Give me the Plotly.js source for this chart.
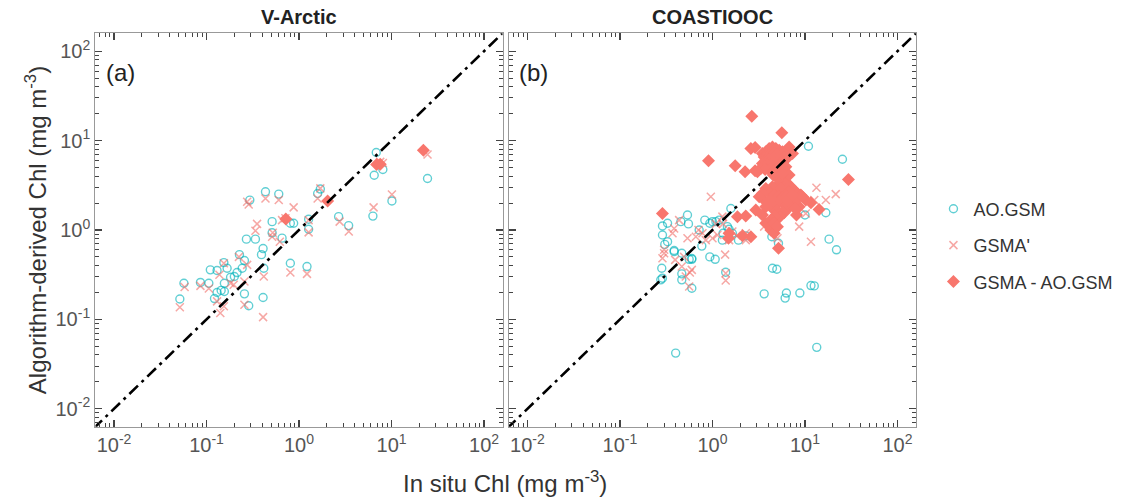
<!DOCTYPE html>
<html>
<head>
<meta charset="utf-8">
<script src="https://cdn.plot.ly/plotly-3.0.1.min.js"></script>
<style>html,body{margin:0;padding:0;background:#fff;}#chart{width:1126px;height:499px;}</style>
</head>
<body>
<div id="chart"></div>
<script>
// ---------------- data ----------------
const seriesNames = ["AO.GSM", "GSMA'", "GSMA - AO.GSM"];
const panelTitles = ["V-Arctic", "COASTIOOC"];
const panelLabels = ["(a)", "(b)"];
const tickValues = [0.01, 0.1, 1, 10, 100];
const tickLabels = ["10<sup>-2</sup>", "10<sup>-1</sup>", "10<sup>0</sup>", "10<sup>1</sup>", "10<sup>2</sup>"];
const identityLine = [0.001, 1000];

// V-Arctic: AO.GSM
const arcticAO_x = [6.84,6.50,8.06,24.5,10.1,6.29,2.68,3.44,1.70,1.59,1.27,1.27,0.806,0.875,0.512,0.604,0.434,0.294,0.656,0.512,0.270,0.338,0.409,0.393,0.806,1.22,0.416,0.409,0.286,0.257,0.227,0.257,0.154,0.214,0.243,0.167,0.110,0.130,0.182,0.200,0.156,0.144,0.130,0.106,0.086,0.057,0.0515,0.156,0.122];
const arcticAO_y = [7.35,4.10,4.75,3.77,2.11,1.43,1.41,1.12,2.87,2.56,1.02,1.32,1.19,1.19,1.24,2.52,2.68,2.16,0.81,0.93,0.79,0.79,0.62,0.53,0.425,0.390,0.373,0.176,0.142,0.193,0.53,0.455,0.432,0.334,0.373,0.373,0.358,0.352,0.296,0.302,0.254,0.211,0.200,0.254,0.259,0.254,0.169,0.205,0.171];
// V-Arctic: GSMA'
const arcticGSMAp_x = [7.55,6.4,24.5,10.1,2.75,3.45,1.59,1.70,1.27,1.27,0.875,0.713,0.352,0.275,0.286,0.434,0.604,0.338,0.512,0.62,0.416,0.806,1.22,0.409,0.257,0.275,0.224,0.154,0.138,0.106,0.086,0.058,0.0515,0.141,0.130,0.154,0.257,0.182,0.197,0.52,0.656,8.06];
const arcticGSMAp_y = [5.78,1.79,6.98,2.50,1.24,0.96,2.25,2.92,0.94,1.29,1.79,1.35,1.17,2.07,1.93,2.25,2.16,0.98,0.84,0.74,0.302,0.334,0.323,0.106,0.146,0.407,0.50,0.425,0.315,0.222,0.237,0.230,0.137,0.118,0.159,0.140,0.265,0.254,0.244,0.93,1.29,5.62];
// V-Arctic: GSMA - AO.GSM
const arcticDiff_x = [22.1,6.9,7.55,2.04,0.72];
const arcticDiff_y = [7.8,5.40,5.44,2.11,1.33];

// COASTIOOC: AO.GSM
const coastAO_x = [10.9,25.4,16.8,10.0,18.2,21.9,4.45,4.96,3.62,6.1,6.3,8.8,11.6,12.6,0.40,13.4,1.58,0.537,0.550,0.826,1.0,0.936,0.288,0.327,0.455,0.288,0.305,0.327,0.385,0.466,0.560,0.598,0.718,0.767,0.936,1.07,1.28,1.30,1.45,1.51,1.64,1.91,2.29,4.38,5.17,1.39,0.283,0.288,0.466,0.466,0.598,0.598,1.09,1.18,0.276,0.385];
const coastAO_y = [8.65,6.19,1.56,1.47,0.79,0.60,0.373,0.364,0.193,0.173,0.197,0.197,0.239,0.237,0.042,0.0487,1.74,1.47,1.17,1.29,1.24,1.19,1.11,1.19,1.24,0.88,0.69,0.74,0.59,0.55,0.47,0.48,1.0,0.66,0.50,0.47,0.77,0.92,1.09,1.02,0.92,0.77,0.86,0.84,0.71,0.337,0.373,0.289,0.323,0.277,0.223,0.47,1.24,1.29,0.277,0.573];
// COASTIOOC: GSMA'
const coastGSMAp_x = [0.96,0.288,0.300,0.370,0.385,0.436,0.494,0.537,0.569,0.598,0.515,0.560,0.661,0.706,0.847,1.0,1.09,1.28,1.30,1.37,1.39,1.39,1.64,1.82,2.29,2.29,3.62,5.04,8.65,11.6,13.3,16.8,21.5,12.6,10.2,1.51,0.466,0.395,0.300,0.78,1.13];
const coastGSMAp_y = [2.35,0.483,0.60,0.92,1.04,1.29,0.50,0.81,0.334,0.358,0.302,0.233,0.84,1.0,0.77,0.81,1.17,1.41,1.17,0.53,0.328,0.272,0.96,0.86,0.92,0.77,1.09,0.81,1.09,0.74,2.97,2.16,2.52,2.16,1.53,0.77,0.390,0.463,0.55,0.92,0.88];
// COASTIOOC: GSMA - AO.GSM
const coastDiff_x = [2.66,5.62,2.60,2.89,0.906,1.76,2.25,2.89,29.5,0.288,1.49,1.51,5.17,2.60,2.11,1.86,2.29,2.94,3.47,3.77,4.27,4.64,4.84,14.2,11.6,10.2,8.65,7.33,8.09,4.03,5.96,6.74,7.33,6.21,
  3.47,3.77,4.10,4.45,4.84,5.26,5.71,3.62,3.93,4.27,4.64,5.04,5.48,5.96,3.77,4.10,4.45,4.84,5.26,5.71,3.47,3.93,4.27,4.76,5.17,5.62,3.33,3.71,4.17,4.64,5.26,3.06,6.21,4.53,4.92,
  4.84,5.48,5.96,5.26,5.71,6.47,7.03,4.45,4.84,5.48,6.21,6.74,7.64,8.30,9.02,3.77,4.17,4.64,5.17,5.71,6.31,7.21,7.96,9.40,3.62,4.10,4.53,5.04,5.62,6.21,6.86,7.83,4.45,5.04,5.71,5.35,4.76,4.27,4.64,5.04,6.47,7.33,3.47,3.20,3.77,6.21,6.74,5.71];
const coastDiff_y = [18.7,12.2,8.15,8.36,5.93,5.22,4.48,4.59,3.67,1.53,0.81,0.92,0.625,0.84,0.86,1.41,1.43,1.67,1.47,1.19,1.0,0.92,1.29,1.70,2.02,2.16,1.82,2.07,1.47,2.02,1.56,8.50,7.16,6.14,
  7.16,7.48,8.15,8.50,8.15,7.80,7.48,6.57,6.86,7.16,7.28,7.05,6.68,6.46,6.04,6.14,6.30,6.04,5.93,5.78,5.54,5.45,5.31,5.45,5.17,5.08,4.87,4.75,4.67,4.59,4.67,4.48,5.08,4.11,4.29,
  3.93,3.77,3.61,3.31,3.18,3.31,3.04,3.04,2.79,2.92,2.75,2.68,2.79,2.56,2.46,2.92,2.56,2.46,2.35,2.31,2.39,2.25,2.16,2.35,2.16,2.07,2.02,1.98,2.07,1.90,1.82,1.74,1.74,1.64,1.60,1.41,1.43,1.29,1.19,1.09,2.16,2.46,2.56,2.35,1.82,3.93,4.11,4.29];

// ---------------- styles ----------------
const teal = 'rgba(0,178,186,0.62)';
const salmonLight = 'rgba(240,110,105,0.6)';
const salmon = '#F8766D';
const FONT = 'Liberation Sans, Arial, Helvetica, sans-serif';

function panelTraces(xa, ya, ao, gp, df, showLegend) {
  return [
    {x: ao[0], y: ao[1], xaxis: xa, yaxis: ya, type: 'scatter', mode: 'markers', name: seriesNames[0],
     legendgroup: 'ao', showlegend: showLegend,
     marker: {symbol: 'circle-open', size: 8, color: teal, line: {width: 1.4, color: teal}}},
    {x: gp[0], y: gp[1], xaxis: xa, yaxis: ya, type: 'scatter', mode: 'markers', name: seriesNames[1],
     legendgroup: 'gp', showlegend: showLegend,
     marker: {symbol: 'x-thin-open', size: 8, color: salmonLight, line: {width: 1.5, color: salmonLight}}},
    {x: df[0], y: df[1], xaxis: xa, yaxis: ya, type: 'scatter', mode: 'markers', name: seriesNames[2],
     legendgroup: 'df', showlegend: showLegend,
     marker: {symbol: 'diamond', size: 10, color: salmon, line: {width: 0}}},
    {x: identityLine, y: identityLine, xaxis: xa, yaxis: ya, type: 'scatter', mode: 'lines',
     showlegend: false, hoverinfo: 'skip',
     line: {color: '#000', width: 2.6, dash: '12px,5px,3px,5px'}}
  ];
}

const data = [].concat(
  panelTraces('x', 'y', [arcticAO_x, arcticAO_y], [arcticGSMAp_x, arcticGSMAp_y], [arcticDiff_x, arcticDiff_y], true),
  panelTraces('x2', 'y2', [coastAO_x, coastAO_y], [coastGSMAp_x, coastGSMAp_y], [coastDiff_x, coastDiff_y], false)
);

function axisBase(extra) {
  return Object.assign({
    type: 'log', range: [-2.2, 2.2], tickmode: 'array', tickvals: tickValues, ticktext: tickLabels,
    ticks: 'inside', ticklen: 7, tickwidth: 1.3, tickcolor: '#444',
    showline: true, linecolor: '#999', linewidth: 1.3, mirror: 'ticks',
    showgrid: false, zeroline: false,
    tickfont: {family: FONT, size: 20, color: '#555'},
    minor: {ticks: 'inside', ticklen: 4, tickwidth: 1, tickcolor: '#444', dtick: 'D1', showgrid: false}
  }, extra);
}

const layout = {
  width: 1126, height: 499,
  margin: {l: 0, r: 0, t: 0, b: 0},
  paper_bgcolor: '#fff', plot_bgcolor: '#fff',
  font: {family: FONT, color: '#333'},
  showlegend: true,
  legend: {x: 0.829, y: 0.508, xanchor: 'left', yanchor: 'middle', font: {family: FONT, size: 18, color: '#333'},
           bgcolor: 'rgba(0,0,0,0)', itemwidth: 30},
  xaxis: axisBase({domain: [0.0848, 0.4463], anchor: 'y'}),
  yaxis: axisBase({domain: [0.1449, 0.9333], anchor: 'x',
    title: {text: 'Algorithm-derived Chl (mg m<sup>-3</sup>)', font: {family: FONT, size: 24, color: '#333'}, standoff: 2}}),
  xaxis2: axisBase({domain: [0.4520, 0.8135], anchor: 'y2'}),
  yaxis2: axisBase({domain: [0.1449, 0.9333], anchor: 'x2', showticklabels: false}),
  annotations: [
    {text: '<b>' + panelTitles[0] + '</b>', xref: 'x domain', yref: 'y domain', x: 0.5, y: 1, xanchor: 'center', yanchor: 'bottom', yshift: 3,
     showarrow: false, font: {family: FONT, size: 20, color: '#222'}},
    {text: '<b>' + panelTitles[1] + '</b>', xref: 'x2 domain', yref: 'y2 domain', x: 0.5, y: 1, xanchor: 'center', yanchor: 'bottom', yshift: 3,
     showarrow: false, font: {family: FONT, size: 20, color: '#222'}},
    {text: panelLabels[0], xref: 'x domain', yref: 'y domain', x: 0.02, y: 0.9, xanchor: 'left', yanchor: 'middle',
     showarrow: false, font: {family: FONT, size: 24, color: '#222'}},
    {text: panelLabels[1], xref: 'x2 domain', yref: 'y2 domain', x: 0.02, y: 0.9, xanchor: 'left', yanchor: 'middle',
     showarrow: false, font: {family: FONT, size: 24, color: '#222'}},
    {text: 'In situ Chl (mg m<sup>-3</sup>)', xref: 'paper', yref: 'paper', x: 0.4485, y: 0.034, xanchor: 'center', yanchor: 'middle',
     showarrow: false, font: {family: FONT, size: 24, color: '#333'}}
  ]
};

Plotly.newPlot('chart', data, layout, {staticPlot: true, displayModeBar: false});
</script>
</body>
</html>
